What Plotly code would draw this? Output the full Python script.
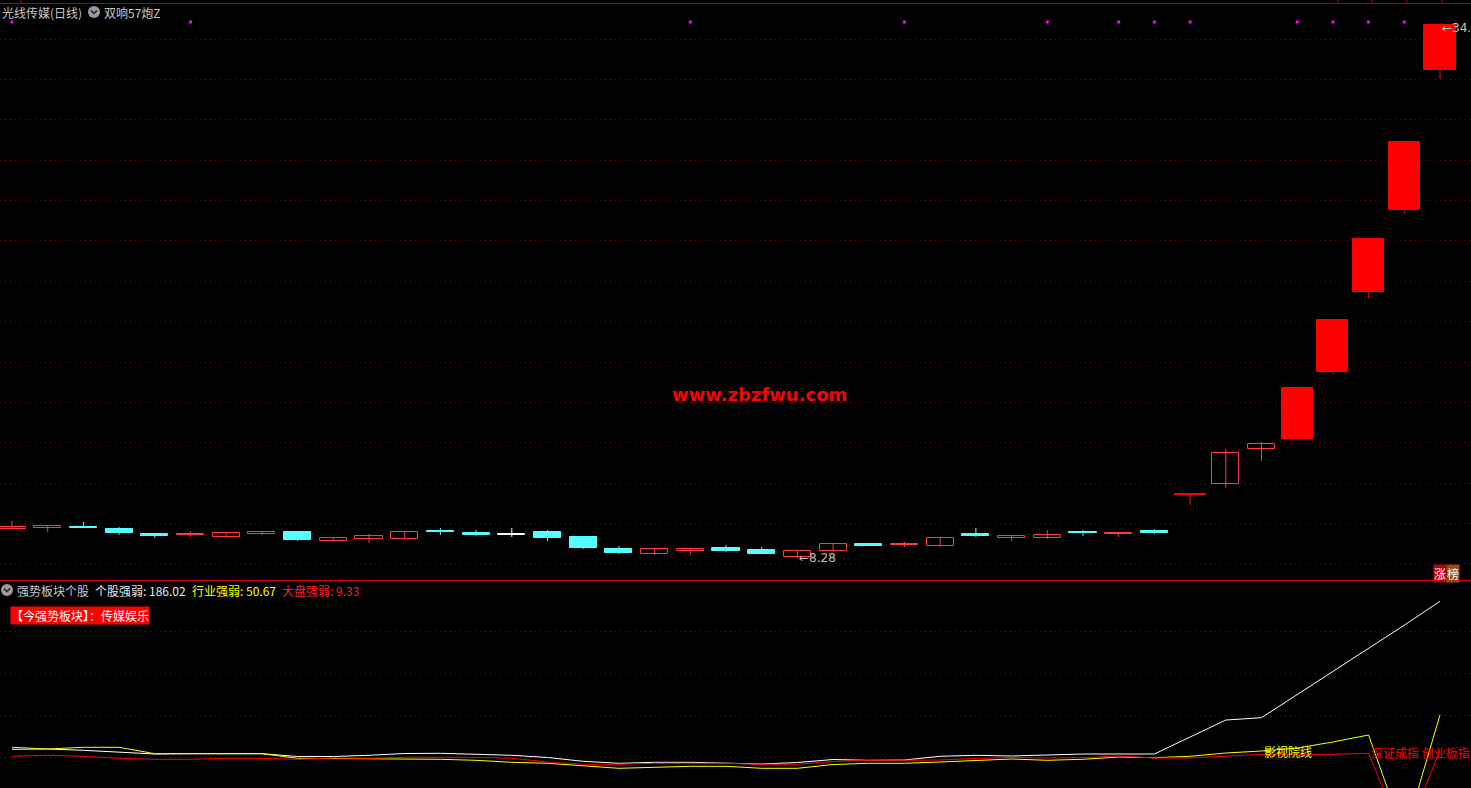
import plotly.graph_objects as go

W, H = 1471, 788

# ---------------- data ----------------
idx = list(range(41))
opens  = [9.74, 9.78, 9.79, 9.73, 9.48, 9.43, 9.34, 9.49, 9.58, 9.14,
          9.24, 9.24, 9.59, 9.53, 9.44, 9.58, 9.34, 8.74, 8.49, 8.64,
          8.79, 8.69, 8.35, 8.64, 8.99, 8.93, 8.89, 9.48, 9.29, 9.29,
          9.54, 9.48, 9.63, 11.44, 11.96, 13.69, 14.19, 17.51, 21.47, 25.53,
          32.47]
highs  = [10.13, 9.88, 10.08, 9.83, 9.53, 9.63, 9.58, 9.63, 9.58, 9.29,
          9.49, 9.63, 9.78, 9.68, 9.78, 9.68, 9.39, 8.89, 8.74, 8.79,
          8.94, 8.84, 8.69, 8.99, 9.04, 9.09, 9.34, 9.78, 9.39, 9.68,
          9.68, 9.49, 9.73, 11.44, 13.69, 14.04, 16.73, 20.08, 24.10, 28.92,
          34.70]
lows   = [9.73, 9.58, 9.78, 9.44, 9.29, 9.34, 9.34, 9.44, 9.14, 9.14,
          9.04, 9.24, 9.44, 9.39, 9.34, 9.14, 8.74, 8.49, 8.44, 8.45,
          8.59, 8.49, 8.28, 8.64, 8.89, 8.84, 8.84, 9.34, 9.14, 9.24,
          9.39, 9.34, 9.49, 10.92, 11.76, 13.10, 14.19, 17.36, 21.17, 25.33,
          32.02]
closes = [9.83, 9.88, 9.78, 9.53, 9.40, 9.44, 9.53, 9.58, 9.19, 9.29,
          9.39, 9.58, 9.58, 9.44, 9.44, 9.29, 8.79, 8.54, 8.74, 8.74,
          8.64, 8.49, 8.64, 8.99, 8.89, 8.94, 9.29, 9.39, 9.39, 9.44,
          9.53, 9.49, 9.53, 11.44, 13.50, 13.94, 16.73, 20.08, 24.10, 28.92,
          34.70]
limit_up = [33, 36, 37, 38, 39, 40]
signal_idx = [0, 5, 19, 25, 29, 31, 32, 33, 36, 37, 38, 39]

stock_strength = [9.76, 10.12, 8.57, 5.95, 4.17, 4.52, 4.52, 4.52, 1.19, 1.19,
                  2.62, 4.76, 5.00, 3.57, 2.62, 0.00, -4.52, -6.90, -5.71, -5.71,
                  -7.14, -7.74, -5.95, -2.38, -3.33, -2.98, 1.43, 2.62, 1.79, 2.98,
                  4.17, 4.17, 4.17, 24.4, 44.6, 47.4, 74.9, 102.4, 130.0, 157.5,
                  186.02]
industry_strength = [12.14, 10.12, 12.14, 12.14, 4.52, 4.52, 4.52, 4.52, -0.95, -1.19,
                     -1.79, -2.14, -2.14, -3.33, -5.71, -6.90, -10.12, -12.86, -11.67, -10.48,
                     -10.48, -12.86, -12.86, -8.33, -6.90, -6.90, -5.36, -3.33, -1.79, -3.33,
                     -2.14, 0.60, -0.24, 1.43, 5.36, 7.74, 11.31, 18.45, 26.79, -93.5,
                     50.67]
market_strength = [1.43, 2.62, 1.43, -0.95, -2.14, -2.14, -0.95, -0.95, -2.14, -0.60,
                   -0.95, 0.24, 0.24, 0.24, -0.95, -5.36, -8.10, -8.10, -6.90, -6.90,
                   -6.90, -8.10, -8.10, -4.76, -3.33, -3.33, -2.98, -1.19, 0.00, -0.60,
                   -0.24, 1.79, -0.60, -0.60, 1.19, 3.81, 3.81, 3.81, 5.00, -98.0,
                   9.33]

price_grid = list(range(8, 36, 2))
strength_grid = [0, 50, 100, 150]

# ---------------- styling helpers ----------------
def PX(x):
    return x / W

def PY(y):
    return 1 - y / H

RED = "#ff0000"
HOLLOW = "#ff3c3c"
CYAN = "#54ffff"
WHITE = "#ffffff"
GRID = "#8a0000"

# main price axis: pixel mapping price = (725.5 - y)/20.19
top_px, bot_px = 4, 580
ppu = 20.19
yr_main = [(725.5 - bot_px) / ppu, (725.5 - top_px) / ppu]
# lower axis: value = (757.5 - y)/0.84
lt_px, lb_px = 582, 788
vpu = 0.84
yr_low = [(757.5 - lb_px) / vpu, (757.5 - lt_px) / vpu]
xr = [-12 / 35.7, 40 + 31 / 35.7]

fig = go.Figure()

# candle styles
fills, lines, widths, wick_col = [], [], [], []
for i in idx:
    o, c = opens[i], closes[i]
    if i in limit_up:
        f, l, w = RED, RED, 0.87
    elif c > o:
        f, l, w = "#000000", HOLLOW, 0.76
    elif c < o:
        f, l, w = CYAN, CYAN, 0.76
    else:
        f, l, w = WHITE, WHITE, 0.76
    fills.append(f); lines.append(l); widths.append(w); wick_col.append(l)

# wicks grouped by colour
for col in sorted(set(wick_col)):
    xs, ys = [], []
    for i in idx:
        if wick_col[i] == col:
            xs += [i, i, None]
            ys += [lows[i], highs[i], None]
    fig.add_trace(go.Scatter(x=xs, y=ys, mode="lines", line=dict(color=col, width=1),
                             hoverinfo="skip", showlegend=False, xaxis="x", yaxis="y"))

bases = [min(opens[i], closes[i]) for i in idx]
heights = [max(abs(closes[i] - opens[i]), 0.05) for i in idx]
fig.add_trace(go.Bar(x=idx, y=heights, base=bases, width=widths,
                     marker=dict(color=fills, line=dict(color=lines, width=1)),
                     hoverinfo="skip", showlegend=False, xaxis="x", yaxis="y"))

# signal dots near top
sig_y = yr_main[1] - (22 - top_px) / ppu
fig.add_trace(go.Scatter(x=signal_idx, y=[sig_y] * len(signal_idx), mode="markers",
                         marker=dict(symbol="square", size=3, color="#ff00ff", line=dict(width=0)),
                         hoverinfo="skip", showlegend=False, xaxis="x", yaxis="y"))

# lower panel lines
for vals, col in [(stock_strength, WHITE), (industry_strength, "#ffff00"), (market_strength, RED)]:
    fig.add_trace(go.Scatter(x=idx, y=vals, mode="lines", line=dict(color=col, width=1),
                             hoverinfo="skip", showlegend=False, xaxis="x2", yaxis="y2"))

axis_common = dict(showticklabels=False, zeroline=False, showline=False, ticks="")
fig.update_layout(
    width=W, height=H,
    margin=dict(l=0, r=0, t=0, b=0),
    paper_bgcolor="#000000", plot_bgcolor="#000000",
    hovermode=False, showlegend=False, bargap=0,
    xaxis=dict(domain=[0, 1], range=xr, showgrid=False, anchor="y", **axis_common),
    yaxis=dict(domain=[PY(bot_px), PY(top_px)], range=yr_main, tickmode="array",
               tickvals=price_grid, showgrid=True, gridcolor=GRID, gridwidth=1,
               griddash="1px,4px", anchor="x", **axis_common),
    xaxis2=dict(domain=[0, 1], range=xr, showgrid=False, anchor="y2", matches="x", **axis_common),
    yaxis2=dict(domain=[PY(lb_px), PY(lt_px)], range=yr_low, tickmode="array",
                tickvals=strength_grid, showgrid=True, gridcolor=GRID, gridwidth=1,
                griddash="1px,4px", anchor="x2", **axis_common),
)

shapes = [
    dict(type="line", xref="paper", yref="paper", x0=0, x1=1, y0=PY(3.5), y1=PY(3.5),
         line=dict(color="#b40000", width=1)),
    dict(type="line", xref="paper", yref="paper", x0=0, x1=1, y0=PY(580.5), y1=PY(580.5),
         line=dict(color="#c80000", width=1)),
]
for tx in [21, 1338, 1372, 1407, 1442]:
    shapes.append(dict(type="line", xref="paper", yref="paper", x0=PX(tx), x1=PX(tx),
                       y0=PY(0), y1=PY(3.5), line=dict(color="#b40000", width=1)))
for cx, cy in [(94, 12), (7, 590)]:
    shapes.append(dict(type="circle", xref="paper", yref="paper",
                       x0=PX(cx - 6), x1=PX(cx + 6), y0=PY(cy + 6), y1=PY(cy - 6),
                       fillcolor="#9a9a9a", line=dict(width=0)))
    shapes.append(dict(type="path", xref="paper", yref="paper",
                       path=f"M {PX(cx-3)} {PY(cy-1.5)} L {PX(cx)} {PY(cy+1.5)} L {PX(cx+3)} {PY(cy-1.5)}",
                       line=dict(color="#202020", width=1.5)))
fig.update_layout(shapes=shapes)

CJK = "Noto Sans CJK SC, DejaVu Sans, sans-serif"
ann = []
def txt(x, y, s, color, size=12, xanchor="left", bg=None, family=CJK, bold=False, xref="paper", yref="paper"):
    d = dict(x=x, y=y, xref=xref, yref=yref, text=s, showarrow=False, xanchor=xanchor,
             yanchor="middle", font=dict(color=color, size=size, family=family,
                                         weight="bold" if bold else "normal"))
    if bg:
        d["bgcolor"] = bg
        d["borderpad"] = 0
    ann.append(d)

txt(PX(0), PY(12), "光线传媒(日线)", "#c8c8c8")
txt(PX(102), PY(12), "双响57炮Z", "#c8c8c8")
txt(PX(15), PY(590), "强势板块个股", "#c8c8c8")
txt(PX(93), PY(590), "个股强弱: 186.02", "#e8e8e8")
txt(PX(190), PY(590), "行业强弱: 50.67", "#ffff00")
txt(PX(280), PY(590), "大盘强弱: 9.33", "#ff2020")
txt(PX(10), PY(615.5), "【今强势板块】：传媒娱乐", "#ffffff", bg="#ff0000")
txt(PX(759), PY(394), "www.zbzfwu.com", "#ff0000", size=18, xanchor="center",
    family="DejaVu Sans, sans-serif", bold=True)
txt(PX(1433), PY(573), "涨", "#ffffff", bg="#c00000")
txt(PX(1446), PY(573), "榜", "#ffffff", bg="#9a4a10")
# price extremes
txt(22, lows[22], "←8.28", "#c0c0c0", family="DejaVu Sans, sans-serif", xref="x", yref="y")
txt(40, highs[40] - 0.15, "←34.70", "#c0c0c0", family="DejaVu Sans, sans-serif", xref="x", yref="y")
# lower panel labels
txt(35, 7.7, "影视院线", "#ffff00", xref="x2", yref="y2")
txt(38, 5.4, "深证成指 创业板指", "#ff0000", xref="x2", yref="y2")
fig.update_layout(annotations=ann)

fig.write_html("out.html", config={"displayModeBar": False},
               post_script="document.body.style.margin='0';document.body.style.padding='0';"
                           "document.body.style.overflow='hidden';document.body.style.background='#000';")
